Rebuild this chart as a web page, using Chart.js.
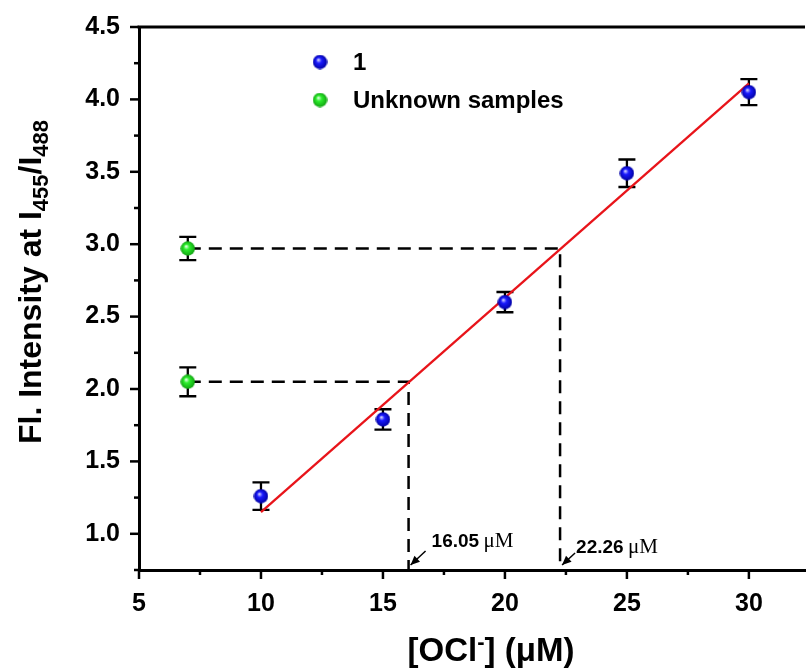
<!DOCTYPE html>
<html lang="en">
<head>
    <meta charset="UTF-8">
    <title>Fl. Intensity vs [OCl-]</title>
    <script src="https://cdn.jsdelivr.net/npm/chart.js"></script>
    <style>
        body { margin: 0; background: #fff; }
    </style>
</head>
<body>
    <canvas id="chart" width="810" height="671"></canvas>

    <script>
        // calibration points (probe 1)
        const concX = [10, 15, 20, 25, 30];
        const ratioY = [1.26, 1.79, 2.60, 3.49, 4.05];
        const ratioErr = [0.095, 0.07, 0.07, 0.095, 0.09];

        // unknown samples, plotted at x = 7
        const unknownX = [7, 7];
        const unknownY = [2.05, 2.97];
        const unknownErr = [0.10, 0.08];

        // linear fit end points
        const fitX = [10, 30];
        const fitY = [1.15, 4.11];

        // concentrations read back from the fit
        const foundConc = [16.05, 22.26];
        const foundLabels = ["16.05", "22.26"];

        const xMin = 5, xMax = 32.3, yMin = 0.75, yMax = 4.5;

        function ball(light, mid, dark) {
            let c = document.createElement("canvas");
            c.width = 15; c.height = 15;
            let g = c.getContext("2d");
            let grd = g.createRadialGradient(5.8, 5.2, 0.3, 7.5, 7.5, 7.4);
            grd.addColorStop(0, light);
            grd.addColorStop(0.35, mid);
            grd.addColorStop(1, dark);
            g.fillStyle = grd;
            g.beginPath();
            g.arc(7.5, 7.5, 7.2, 0, Math.PI * 2);
            g.fill();
            return c;
        }
        const blueBall = ball("#d8d8ff", "#1a1aff", "#0000a0");
        const greenBall = ball("#e8ffe8", "#2cee2c", "#10a010");

        const guide = (i) => [
            { x: unknownX[i], y: unknownY[i] },
            { x: foundConc[i], y: unknownY[i] },
            { x: foundConc[i], y: yMin }
        ];

        const FONT = "'Liberation Sans', Arial, sans-serif";

        const extras = {
            id: "extras",
            beforeDatasetsDraw(chart) {
                let ctx = chart.ctx, x = chart.scales.x, y = chart.scales.y;
                ctx.save();
                ctx.strokeStyle = "#000";
                ctx.lineWidth = 2.3;
                chart.data.datasets.forEach(ds => {
                    if (!ds.err) return;
                    ds.data.forEach((p, i) => {
                        let px = x.getPixelForValue(p.x);
                        let top = y.getPixelForValue(p.y + ds.err[i]);
                        let bot = y.getPixelForValue(p.y - ds.err[i]);
                        ctx.beginPath();
                        ctx.moveTo(px, top); ctx.lineTo(px, bot);
                        ctx.moveTo(px - 8.5, top); ctx.lineTo(px + 8.5, top);
                        ctx.moveTo(px - 8.5, bot); ctx.lineTo(px + 8.5, bot);
                        ctx.stroke();
                    });
                });
                ctx.restore();
            },
            afterDraw(chart) {
                let ctx = chart.ctx, x = chart.scales.x, y = chart.scales.y;
                let a = chart.chartArea;
                ctx.save();
                ctx.strokeStyle = "#000";
                ctx.fillStyle = "#000";

                // top frame line
                ctx.lineWidth = 3;
                ctx.beginPath();
                ctx.moveTo(a.left - 1.5, a.top); ctx.lineTo(a.right, a.top);
                ctx.stroke();

                // outward ticks, minor ones shorter
                ctx.lineWidth = 2.5;
                x.ticks.forEach(t => {
                    let px = x.getPixelForValue(t.value);
                    let len = t.value % 5 === 0 ? 9 : 5;
                    ctx.beginPath();
                    ctx.moveTo(px, a.bottom); ctx.lineTo(px, a.bottom + len);
                    ctx.stroke();
                });
                y.ticks.forEach(t => {
                    let py = y.getPixelForValue(t.value);
                    let major = Math.abs(t.value * 2 - Math.round(t.value * 2)) < 1e-6;
                    let len = major ? 9 : 5;
                    ctx.beginPath();
                    ctx.moveTo(a.left, py); ctx.lineTo(a.left - len, py);
                    ctx.stroke();
                });

                // arrows + concentration labels
                foundConc.forEach((c, i) => {
                    let hx = x.getPixelForValue(c) + 2;
                    let hy = y.getPixelForValue(yMin) - 5;
                    let tx = hx + (i === 0 ? 15 : 13);
                    let ty = hy - (i === 0 ? 14 : 12);
                    let ang = Math.atan2(hy - ty, hx - tx);
                    ctx.lineWidth = 1.5;
                    ctx.beginPath();
                    ctx.moveTo(tx, ty); ctx.lineTo(hx, hy);
                    ctx.stroke();
                    ctx.beginPath();
                    ctx.moveTo(hx, hy);
                    ctx.lineTo(hx - 10 * Math.cos(ang - 0.42), hy - 10 * Math.sin(ang - 0.42));
                    ctx.lineTo(hx - 10 * Math.cos(ang + 0.42), hy - 10 * Math.sin(ang + 0.42));
                    ctx.closePath();
                    ctx.fill();

                    let lx = tx + (i === 0 ? 6 : 1);
                    let ly = ty - (i === 0 ? 4 : 0);
                    ctx.textAlign = "left";
                    ctx.textBaseline = "alphabetic";
                    ctx.font = "bold 19px " + FONT;
                    ctx.fillText(foundLabels[i], lx, ly);
                    let w = ctx.measureText(foundLabels[i] + " ").width;
                    ctx.font = "21px 'Liberation Serif', 'Times New Roman', serif";
                    ctx.fillText("\u03bcM", lx + w - 1, ly);
                });

                // legend
                ctx.textBaseline = "middle";
                ctx.textAlign = "left";
                ctx.font = "bold 24px " + FONT;
                [[blueBall, "1", 62], [greenBall, "Unknown samples", 100]].forEach(([img, txt, ly]) => {
                    ctx.drawImage(img, 320 - 7.5, ly - 7.5);
                    ctx.fillText(txt, 353, ly + 1);
                });

                // x title: [OCl-] (μM)
                ctx.textBaseline = "alphabetic";
                let parts = [["[OCl", 33, 0], ["-", 22, -12], ["] (\u03bcM)", 33, 0]];
                let total = 0;
                parts.forEach(p => { ctx.font = "bold " + p[1] + "px " + FONT; total += ctx.measureText(p[0]).width; });
                let cx = 491 - total / 2;
                parts.forEach(p => {
                    ctx.font = "bold " + p[1] + "px " + FONT;
                    ctx.fillText(p[0], cx, 661 + p[2]);
                    cx += ctx.measureText(p[0]).width;
                });

                // y title: Fl. Intensity at I455/I488
                let yparts = [["Fl. Intensity at I", 32, 0], ["455", 22, 7], ["/I", 32, 0], ["488", 22, 7]];
                total = 0;
                yparts.forEach(p => { ctx.font = "bold " + p[1] + "px " + FONT; total += ctx.measureText(p[0]).width; });
                ctx.translate(41, 282);
                ctx.rotate(-Math.PI / 2);
                cx = -total / 2;
                yparts.forEach(p => {
                    ctx.font = "bold " + p[1] + "px " + FONT;
                    ctx.fillText(p[0], cx, p[2]);
                    cx += ctx.measureText(p[0]).width;
                });
                ctx.restore();
            }
        };

        Chart.defaults.font.family = FONT;
        Chart.defaults.color = "#000";

        new Chart(document.getElementById("chart"), {
            type: "scatter",
            data: {
                datasets: [
                    {
                        label: "1",
                        data: concX.map((v, i) => ({ x: v, y: ratioY[i] })),
                        err: ratioErr,
                        pointStyle: blueBall,
                        order: 0
                    },
                    {
                        label: "Unknown samples",
                        data: unknownX.map((v, i) => ({ x: v, y: unknownY[i] })),
                        err: unknownErr,
                        pointStyle: greenBall,
                        order: 0
                    },
                    {
                        label: "fit",
                        type: "line",
                        data: fitX.map((v, i) => ({ x: v, y: fitY[i] })),
                        borderColor: "#e8141a",
                        borderWidth: 2.3,
                        pointRadius: 0,
                        order: 1
                    },
                    {
                        label: "guide1",
                        type: "line",
                        data: guide(0),
                        borderColor: "#000",
                        borderWidth: 2.5,
                        borderDash: [13, 8],
                        pointRadius: 0,
                        order: 2
                    },
                    {
                        label: "guide2",
                        type: "line",
                        data: guide(1),
                        borderColor: "#000",
                        borderWidth: 2.5,
                        borderDash: [13, 8],
                        pointRadius: 0,
                        order: 2
                    }
                ]
            },
            options: {
                responsive: false,
                animation: false,
                layout: { padding: { top: 27, right: 0, left: 0, bottom: 0 } },
                plugins: {
                    legend: { display: false },
                    tooltip: { enabled: false }
                },
                scales: {
                    x: {
                        type: "linear",
                        min: xMin,
                        max: xMax,
                        grid: { display: false },
                        border: { display: true, color: "#000", width: 3 },
                        ticks: {
                            stepSize: 2.5,
                            includeBounds: false,
                            padding: 11,
                            maxRotation: 0,
                            autoSkip: false,
                            font: { size: 25, weight: "bold" },
                            callback: v => (v % 5 === 0 ? String(v) : "")
                        },
                        afterFit: s => { s.height = 101; }
                    },
                    y: {
                        type: "linear",
                        min: yMin,
                        max: yMax,
                        grid: { display: false },
                        border: { display: true, color: "#000", width: 3 },
                        ticks: {
                            stepSize: 0.25,
                            includeBounds: false,
                            padding: 11,
                            autoSkip: false,
                            font: { size: 25, weight: "bold" },
                            callback: v => {
                                let m = Math.abs(v * 2 - Math.round(v * 2)) < 1e-6;
                                return m ? v.toFixed(1) : "";
                            }
                        },
                        afterFit: s => { s.width = 139; }
                    }
                }
            },
            plugins: [extras]
        });
    </script>
</body>
</html>
